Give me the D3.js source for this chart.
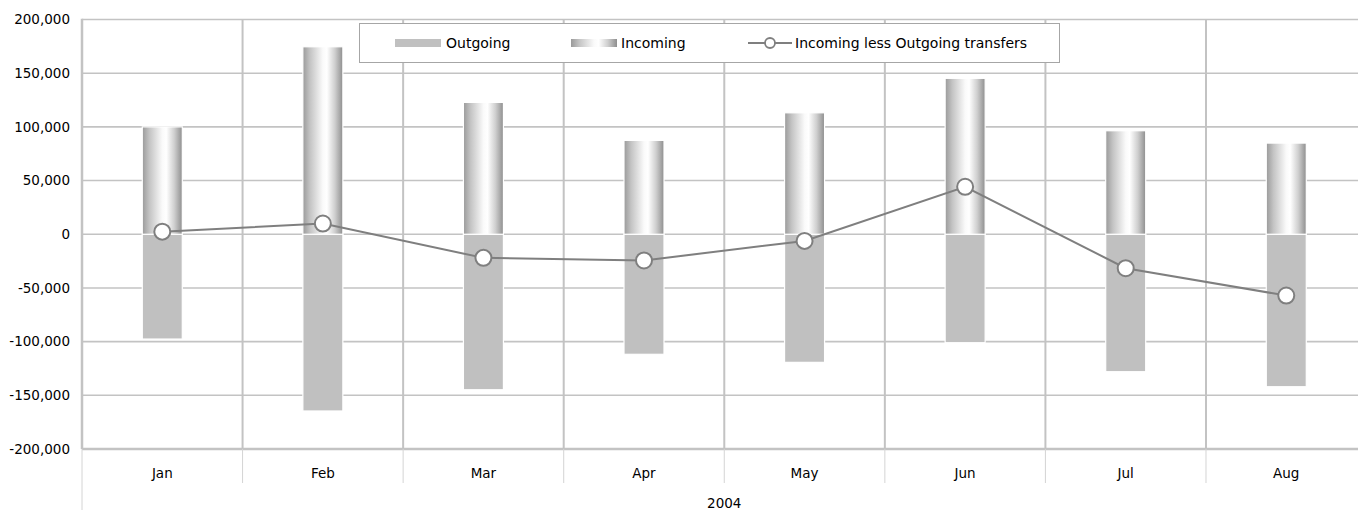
<!DOCTYPE html>
<html>
<head>
<meta charset="utf-8">
<script src="https://cdn.jsdelivr.net/npm/d3@7/dist/d3.min.js"></script>
<style>
  html, body { margin: 0; padding: 0; background: #fff; overflow: hidden; }
  svg { display: block; font-family: "DejaVu Sans", Verdana, sans-serif; }
</style>
</head>
<body>
<svg id="chart" width="1358" height="510"></svg>
<script>
// ---- data ----
const months = ["Jan", "Feb", "Mar", "Apr", "May", "Jun", "Jul", "Aug"];
const yearLabel = "2004";
const incoming = [100000, 174600, 122800, 87400, 113100, 145200, 96400, 84900];
const outgoing = [-97600, -164600, -144800, -111800, -119300, -101000, -128000, -142000];
const net = [2400, 10000, -22000, -24400, -6200, 44200, -31600, -57100];
const yTicks = [200000, 150000, 100000, 50000, 0, -50000, -100000, -150000, -200000];
const seriesNames = ["Outgoing", "Incoming", "Incoming less Outgoing transfers"];

// ---- layout ----
(function () {
const svg = d3.select("#chart");
const pLeft = 82, pRight = 82 + 8 * 160.57, pTop = 19.5, pBottom = 449;
const grid = "#c3c3c3";

const x = d3.scaleBand().domain(months).range([pLeft, pRight]).paddingInner(0).paddingOuter(0);
const y = d3.scaleLinear().domain([-200000, 200000]).range([pBottom, pTop]);
const fmt = d3.formatLocale({ decimal: ".", thousands: ",", grouping: [3], currency: ["", ""], minus: "-" }).format(",");

// gradient for incoming
const defs = svg.append("defs");
const g1 = defs.append("linearGradient").attr("id", "cyl").attr("x1", "0%").attr("x2", "100%").attr("y1", "0%").attr("y2", "0%");
[[0, "#9a9a9a"], [0.18, "#c4c4c4"], [0.5, "#fafafa"], [0.6, "#ffffff"], [0.8, "#cfcfcf"], [1, "#8e8e8e"]]
  .forEach(([o, c]) => g1.append("stop").attr("offset", o).attr("stop-color", c));

// horizontal gridlines
svg.append("g").selectAll("line").data(yTicks).join("line")
  .attr("x1", pLeft).attr("x2", 1358)
  .attr("y1", d => y(d)).attr("y2", d => y(d))
  .attr("stroke", grid).attr("stroke-width", d => d === -200000 ? 2.5 : 1.6);

// vertical gridlines (category boundaries)
const bounds = months.map(m => x(m)).slice(1).concat([pRight]);
svg.append("g").selectAll("line").data(bounds).join("line")
  .attr("x1", d => d).attr("x2", d => d)
  .attr("y1", pTop).attr("y2", pBottom)
  .attr("stroke", grid).attr("stroke-width", 2);

// category-axis separators below plot
svg.append("g").selectAll("line").data(bounds).join("line")
  .attr("x1", d => d).attr("x2", d => d)
  .attr("y1", pBottom).attr("y2", 483)
  .attr("stroke", "#d4d4d4").attr("stroke-width", 1);

// left axis line
svg.append("line").attr("x1", pLeft).attr("x2", pLeft).attr("y1", pTop - 0.8).attr("y2", pBottom)
  .attr("stroke", grid).attr("stroke-width", 2.5);
svg.append("line").attr("x1", pLeft).attr("x2", pLeft).attr("y1", pBottom).attr("y2", 510)
  .attr("stroke", "#d4d4d4").attr("stroke-width", 1);

// y labels
svg.append("g").selectAll("text").data(yTicks).join("text")
  .attr("x", 70).attr("y", d => y(d)).attr("dy", "0.35em")
  .attr("text-anchor", "end").attr("font-size", "13.5px").attr("fill", "#000")
  .text(d => fmt(d));

// month labels
svg.append("g").selectAll("text").data(months).join("text")
  .attr("x", d => x(d) + x.bandwidth() / 2).attr("y", 473).attr("dy", "0.35em")
  .attr("text-anchor", "middle").attr("font-size", "13.5px").attr("fill", "#000")
  .text(d => d);
svg.append("text").attr("x", (pLeft + pRight) / 2).attr("y", 503).attr("dy", "0.35em")
  .attr("text-anchor", "middle").attr("font-size", "13.5px").attr("fill", "#000").text(yearLabel);

// bars
const bw = 40;
const cx = m => x(m) + x.bandwidth() / 2;
svg.append("g").selectAll("rect").data(months).join("rect")
  .attr("x", d => cx(d) - bw / 2).attr("width", bw)
  .attr("y", (d, i) => y(0)).attr("height", (d, i) => y(outgoing[i]) - y(0))
  .attr("fill", "#c0c0c0").attr("stroke", "#fff").attr("stroke-width", 1.2);
svg.append("g").selectAll("rect").data(months).join("rect")
  .attr("x", d => cx(d) - bw / 2).attr("width", bw)
  .attr("y", (d, i) => y(incoming[i])).attr("height", (d, i) => y(0) - y(incoming[i]))
  .attr("fill", "url(#cyl)").attr("stroke", "#fff").attr("stroke-width", 1.2);

// net line
const line = d3.line().x((d, i) => cx(months[i])).y(d => y(d));
svg.append("path").datum(net).attr("d", line)
  .attr("fill", "none").attr("stroke", "#7f7f7f").attr("stroke-width", 2);
svg.append("g").selectAll("circle").data(net).join("circle")
  .attr("cx", (d, i) => cx(months[i])).attr("cy", d => y(d)).attr("r", 8)
  .attr("fill", "#fff").attr("stroke", "#7f7f7f").attr("stroke-width", 2);

// legend
const lg = svg.append("g");
lg.append("rect").attr("x", 359.5).attr("y", 23.5).attr("width", 700).attr("height", 39)
  .attr("fill", "#fff").attr("stroke", "#a6a6a6").attr("stroke-width", 1);
const ly = 43;
lg.append("rect").attr("x", 395).attr("y", ly - 4).attr("width", 46).attr("height", 8).attr("fill", "#c0c0c0");
lg.append("text").attr("x", 446).attr("y", ly).attr("dy", "0.35em").attr("font-size", "14px").text(seriesNames[0]);
lg.append("rect").attr("x", 571).attr("y", ly - 4).attr("width", 46).attr("height", 8).attr("fill", "url(#cyl)");
lg.append("text").attr("x", 621).attr("y", ly).attr("dy", "0.35em").attr("font-size", "14px").text(seriesNames[1]);
lg.append("line").attr("x1", 748).attr("x2", 792).attr("y1", ly).attr("y2", ly).attr("stroke", "#7f7f7f").attr("stroke-width", 2);
lg.append("circle").attr("cx", 770).attr("cy", ly).attr("r", 5).attr("fill", "#fff").attr("stroke", "#7f7f7f").attr("stroke-width", 1.8);
lg.append("text").attr("x", 795).attr("y", ly).attr("dy", "0.35em").attr("font-size", "14px").text(seriesNames[2]);
})();
</script>
</body>
</html>
